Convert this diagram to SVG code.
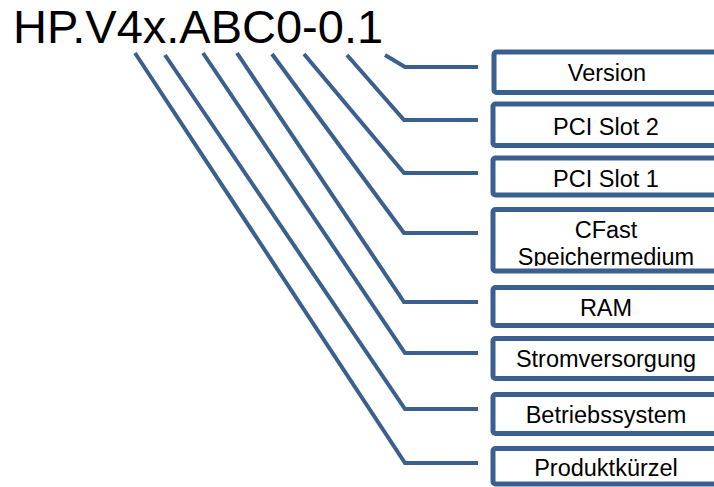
<svg xmlns="http://www.w3.org/2000/svg" width="714" height="487" viewBox="0 0 714 487">
<style>
.box{fill:#ffffff;stroke:#3B6090;stroke-width:5}
.conn{fill:none;stroke:#3B6090;stroke-width:4;stroke-linejoin:miter}
.lbl{font-family:"Liberation Sans",Arial,sans-serif;font-size:23.5px;fill:#000000;text-anchor:middle}
.title{font-family:"Liberation Sans",Arial,sans-serif;font-size:47px;fill:#000000}
</style>
<defs>
<clipPath id="c1"><rect x="497" y="55" width="230" height="33"/></clipPath>
<clipPath id="c2"><rect x="497" y="107" width="230" height="34"/></clipPath>
<clipPath id="c3"><rect x="497" y="160" width="230" height="31"/></clipPath>
<clipPath id="c4"><rect x="497" y="212" width="230" height="54"/></clipPath>
<clipPath id="c5"><rect x="497" y="290" width="230" height="31"/></clipPath>
<clipPath id="c6"><rect x="497" y="341" width="230" height="31"/></clipPath>
<clipPath id="c7"><rect x="497" y="397" width="230" height="33"/></clipPath>
<clipPath id="c8"><rect x="497" y="451" width="230" height="30"/></clipPath>
</defs>
<text class="title" x="13" y="43">HP.V4x.ABC0-0.1</text>
<g id="connectors">
<polyline class="conn" points="385,55 405,67 478,67"/>
<polyline class="conn" points="347,55 404,120 478,120"/>
<polyline class="conn" points="304,54 404,173 478,173"/>
<polyline class="conn" points="272,54 404,233 478,233"/>
<polyline class="conn" points="237,53 404,302 478,302"/>
<polyline class="conn" points="203,53 405,353 478,353"/>
<polyline class="conn" points="165,55 405,409 478,409"/>
<polyline class="conn" points="135,53 405,463 478,463"/>
</g>
<g id="version"><rect class="box" x="494" y="52" width="230" height="40.5" rx="2.5"/><text class="lbl" x="607" y="81" clip-path="url(#c1)">Version</text></g>
<g id="pci2"><rect class="box" x="493" y="104" width="230" height="41.5" rx="2.5"/><text class="lbl" x="606" y="135" clip-path="url(#c2)">PCI Slot 2</text></g>
<g id="pci1"><rect class="box" x="493" y="158" width="230" height="37" rx="2.5"/><text class="lbl" x="606" y="187" clip-path="url(#c3)">PCI Slot 1</text></g>
<g id="cfast"><rect class="box" x="493" y="209.5" width="230" height="61.5" rx="2.5"/><text class="lbl" x="606" y="238" clip-path="url(#c4)">CFast</text><text class="lbl" x="606" y="265" clip-path="url(#c4)">Speichermedium</text></g>
<g id="ram"><rect class="box" x="493" y="287.5" width="230" height="38" rx="2.5"/><text class="lbl" x="606" y="316" clip-path="url(#c5)">RAM</text></g>
<g id="strom"><rect class="box" x="493" y="338.5" width="230" height="40" rx="2.5"/><text class="lbl" x="606" y="366.5" clip-path="url(#c6)">Stromversorgung</text></g>
<g id="betrieb"><rect class="box" x="493" y="394.5" width="230" height="39" rx="2.5"/><text class="lbl" x="606" y="422.5" clip-path="url(#c7)">Betriebssystem</text></g>
<g id="produkt"><rect class="box" x="493" y="448.5" width="230" height="35.5" rx="2.5"/><text class="lbl" x="606" y="476" clip-path="url(#c8)">Produktkürzel</text></g>
</svg>
